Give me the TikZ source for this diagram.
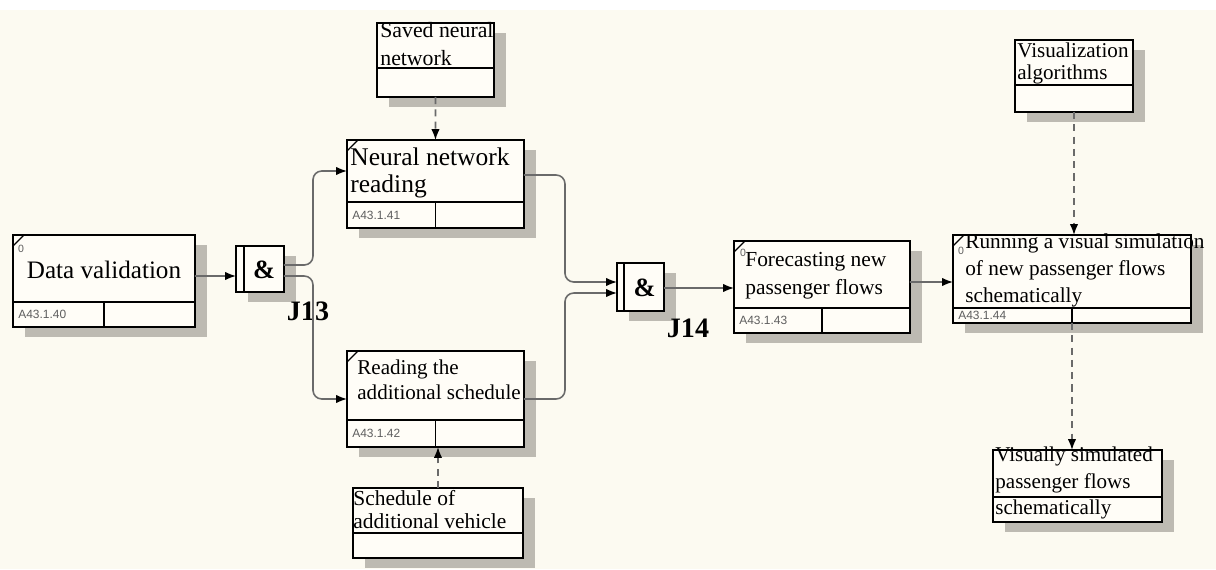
\documentclass[tikz,border=0pt]{standalone}
\usepackage{fontspec}
\setmainfont{Liberation Serif}
\newfontfamily\labelfont{Liberation Sans}
\usetikzlibrary{arrows.meta,calc,shadows,positioning}

\definecolor{paper}{HTML}{FCFAF1}
\definecolor{boxfill}{HTML}{FFFDF7}
\definecolor{shade}{HTML}{BDBAB2}
\definecolor{wiregray}{HTML}{6A6A6A}
\definecolor{codegray}{HTML}{5E5E5E}

\begin{document}
\begin{tikzpicture}[x=0.02cm, y=-0.02cm]
	\tikzstyle{every node}=[inner sep=0pt]
	\tikzstyle{uob}=[draw, line width=1.1pt, outer sep=0pt, fill=boxfill, anchor=north west,
		drop shadow={shadow xshift=0.24cm, shadow yshift=-0.2cm, fill=shade, opacity=1}]
	\tikzstyle{frame}=[line width=1.1pt]
	\tikzstyle{txt}=[anchor=north west, align=left]
	\tikzstyle{idcode}=[anchor=west, text=codegray, font=\labelfont\fontsize{6.8}{8}\selectfont]
	\tikzstyle{zero}=[text=codegray, font=\labelfont\fontsize{6}{7}\selectfont]
	\tikzstyle{wire}=[draw=wiregray, line width=0.9pt, rounded corners=5,
		-{Latex[length=0.22cm, width=0.17cm, color=black]}]
	\tikzstyle{flow}=[draw=wiregray, line width=0.9pt, dash pattern=on 4pt off 3pt,
		-{Latex[length=0.22cm, width=0.17cm, color=black]}]

	\fill[paper] (0,0) rectangle (1216,569);
	\fill[white] (0,0) rectangle (1216,10);
	\useasboundingbox (0,0) rectangle (1216,569);

	\node[uob, minimum width=3.64cm, minimum height=1.84cm] (dv) at (13,235) {};
	\node[uob, minimum width=3.54cm, minimum height=1.76cm] (nn) at (347,140) {};
	\node[uob, minimum width=3.54cm, minimum height=1.92cm] (rs) at (347,351) {};
	\node[uob, minimum width=3.52cm, minimum height=1.84cm] (fc) at (734,241) {};
	\node[uob, minimum width=4.76cm, minimum height=1.76cm] (rv) at (953,235) {};
	\node[uob, minimum width=2.34cm, minimum height=1.48cm] (sn) at (377,23) {};
	\node[uob, minimum width=2.36cm, minimum height=1.44cm] (va) at (1015,40) {};
	\node[uob, minimum width=3.40cm, minimum height=1.40cm] (sa) at (353,488) {};
	\node[uob, minimum width=3.38cm, minimum height=1.44cm] (vs) at (993,450) {};
	\node[uob, minimum width=0.96cm, minimum height=0.92cm] (j13) at (236,246) {};
	\node[uob, minimum width=0.94cm, minimum height=0.96cm] (j14) at (617,263) {};

	\foreach \b/\h in {dv/25, nn/26, rs/27, fc/25, rv/15} {
		\draw[frame] ($(\b.south west)+(0,-\h)$) -- ($(\b.south east)+(0,-\h)$);
		\draw[frame] (\b.south) -- ++(0,-\h);
		\draw[line width=0.7pt] ($(\b.north west)+(0,11)$) -- ($(\b.north west)+(11,0)$);
	}
	\foreach \b/\h in {sn/29, va/27, sa/25, vs/25}
		\draw[frame] ($(\b.south west)+(0,-\h)$) -- ($(\b.south east)+(0,-\h)$);
	\draw[frame] ($(j13.north west)+(8,0)$) -- ($(j13.south west)+(8,0)$);
	\draw[frame] ($(j14.north west)+(7,0)$) -- ($(j14.south west)+(7,0)$);

	\node[txt, anchor=base, font=\fontsize{14.3}{16}\selectfont] (dvt) at (104,278) {Data validation};
	\node[txt, font=\fontsize{14.5}{15.9}\selectfont] (nnt) at (350,147) {Neural network\\reading};
	\node[txt, font=\fontsize{12}{14.2}\selectfont] (rst) at (357,360) {Reading the\\additional schedule};
	\node[txt, font=\fontsize{12.2}{15.9}\selectfont] (fct) at (745,252) {Forecasting new\\passenger flows};
	\node[txt, font=\fontsize{12.1}{15.4}\selectfont] (rvt) at (965,233) {Running a visual simulation\\of new passenger flows\\schematically};
	\node[txt, font=\fontsize{12.4}{15.9}\selectfont] (snt) at (380,22) {Saved neural\\network};
	\node[txt, font=\fontsize{12}{12.5}\selectfont] (vat) at (1017,43) {Visualization\\algorithms};
	\node[txt, font=\fontsize{12.2}{13.1}\selectfont] (sat) at (353,490) {Schedule of\\additional vehicle};
	\node[txt, font=\fontsize{12}{15}\selectfont] (vst) at (995,447) {Visually simulated\\passenger flows\\schematically};

	\node[idcode] (dvc) at ($(dv.south west)+(5,-12.5)$) {A43.1.40};
	\node[idcode] (nnc) at ($(nn.south west)+(5,-13)$) {A43.1.41};
	\node[idcode] (rsc) at ($(rs.south west)+(5,-13.5)$) {A43.1.42};
	\node[idcode] (fcc) at ($(fc.south west)+(5,-12.5)$) {A43.1.43};
	\node[idcode] (rvc) at ($(rv.south west)+(5,-7.5)$) {A43.1.44};
	\node[zero] (dvz) at (21,249) {0};
	\node[zero] (fcz) at (743,253) {0};
	\node[zero] (rvz) at (961,251) {0};

	\node[font=\bfseries\fontsize{15}{15}\selectfont] (j13a) at ($(j13.center)+(4,1)$) {\&};
	\node[font=\bfseries\fontsize{15}{15}\selectfont] (j14a) at ($(j14.center)+(4,1)$) {\&};
	\node[font=\bfseries\fontsize{16}{16}\selectfont] (j13l) at (308,311) {J13};
	\node[font=\bfseries\fontsize{16}{16}\selectfont] (j14l) at (688,328) {J14};

	\draw[wire] ($(dv.east)+(0,-5)$) -- ($(j13.west)+(0,7)$);
	\draw[wire] ($(j13.east)+(0,-4)$) -- ++(29,0) |- ($(nn.west)+(0,-13)$);
	\draw[wire] ($(j13.east)+(0,7)$) -- ++(29,0) |- (rs.west);
	\draw[wire] ($(nn.east)+(0,-9)$) -- ++(41,0) |- ($(j14.west)+(0,-5)$);
	\draw[wire] (rs.east) -- ++(41,0) |- ($(j14.west)+(0,6)$);
	\draw[wire] ($(j14.east)+(0,1)$) -- ($(fc.west)+(0,1)$);
	\draw[wire] ($(fc.east)+(0,-5)$) -- ($(rv.west)+(0,3)$);

	\draw[flow] (sn.south) -- (nn.north);
	\draw[flow] (sa.north) -- (sa.north |- rs.south);
	\draw[flow] (va.south) -- (va.south |- rv.north);
	\draw[flow] (rv.south) -- (rv.south |- vs.north);
\end{tikzpicture}
\end{document}
